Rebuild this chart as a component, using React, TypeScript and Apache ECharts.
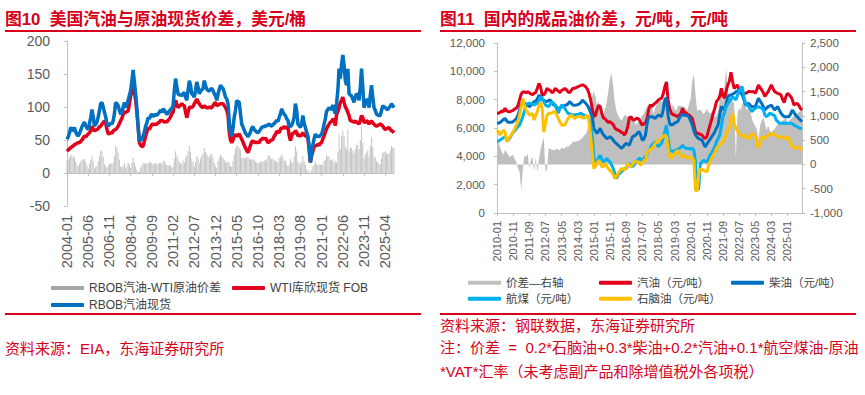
import React, { useEffect, useRef } from "react";
import * as echarts from "echarts";

// ---------- Left chart (图10) : monthly 2004-01 .. 2025-11 ----------
const leftStart = 2004;
const leftCount = 263;
const leftCats: string[] = [];
for (let i = 0; i < leftCount; i++) {
  const y = leftStart + Math.floor(i / 12);
  const m = (i % 12) + 1;
  leftCats.push(`${y}-${m < 10 ? "0" + m : m}`);
}

const rbobSpot = [
  51, 55, 61, 69, 66, 64, 69, 62, 58, 56, 60, 65,
  70, 74, 77, 72, 68, 66, 75, 84, 96, 85, 71, 74,
  77, 85, 95, 105, 107, 100, 92, 85, 74, 71, 73, 76,
  74, 79, 90, 107, 105, 102, 95, 89, 92, 100, 107, 99,
  104, 110, 118, 125, 140, 156, 138, 120, 97, 70, 48, 50,
  52, 56, 62, 71, 76, 84, 82, 87, 89, 86, 87, 89,
  87, 90, 92, 95, 92, 97, 95, 92, 89, 91, 94, 96,
  98, 102, 125, 143, 130, 120, 118, 119, 117, 120, 122, 115,
  110, 125, 140, 132, 120, 118, 115, 125, 138, 130, 120, 124,
  126, 128, 140, 132, 127, 125, 124, 127, 128, 125, 120, 117,
  110, 120, 127, 133, 130, 128, 122, 115, 112, 105, 78, 60,
  56, 68, 85, 95, 110, 108, 107, 90, 74, 70, 65, 60,
  58, 55, 58, 62, 68, 70, 66, 64, 62, 61, 63, 66,
  69, 70, 70, 72, 71, 73, 74, 72, 71, 73, 75, 77,
  80, 78, 84, 90, 97, 92, 89, 87, 82, 80, 70, 71,
  72, 77, 85, 105, 95, 74, 72, 69, 75, 87, 75, 69,
  62, 56, 40, 16, 30, 43, 52, 59, 55, 56, 55, 57,
  59, 65, 74, 82, 94, 96, 99, 97, 97, 103, 95, 90,
  105, 125, 158, 143, 165, 179, 163, 140, 133, 158, 120, 118,
  117, 112, 107, 115, 120, 118, 110, 130, 158, 130, 99, 105,
  110, 112, 99, 118, 133, 115, 99, 95, 89, 88, 87, 87,
  95, 102, 100, 99, 97, 96, 99, 101, 105, 102, 99,
];

const wtiSpot = [
  33, 35, 37, 38, 40, 41, 43, 44, 45, 46, 46, 48,
  50, 53, 56, 55, 57, 59, 61, 64, 71, 66, 64, 65,
  66, 67, 70, 71, 74, 76, 79, 75, 66, 60, 59, 62,
  60, 64, 65, 66, 68, 71, 75, 79, 83, 89, 92, 92,
  93, 94, 105, 117, 125, 133, 122, 110, 92, 70, 46, 42,
  40, 41, 48, 56, 62, 69, 66, 70, 74, 74, 73, 74,
  74, 76, 77, 80, 79, 79, 77, 78, 77, 80, 82, 85,
  90, 92, 103, 110, 104, 99, 101, 103, 105, 103, 102, 92,
  84, 92, 99, 100, 99, 101, 105, 108, 112, 108, 105, 102,
  100, 99, 102, 100, 99, 99, 100, 99, 99, 102, 105, 107,
  102, 103, 104, 105, 105, 105, 102, 99, 95, 88, 62, 50,
  46, 50, 57, 58, 56, 57, 59, 55, 51, 47, 42, 38,
  34, 31, 36, 42, 47, 49, 46, 47, 46, 47, 46, 50,
  51, 53, 51, 53, 50, 46, 47, 49, 50, 51, 56, 58,
  63, 62, 61, 66, 69, 67, 71, 68, 69, 70, 57, 49,
  56, 61, 60, 64, 62, 56, 57, 56, 58, 61, 58, 56,
  56, 54, 35, 16, 26, 33, 40, 41, 42, 43, 42, 45,
  46, 52, 56, 62, 67, 71, 74, 77, 78, 82, 80, 72,
  89, 93, 99, 107, 110, 115, 107, 100, 97, 92, 87, 79,
  79, 78, 77, 79, 77, 76, 74, 80, 87, 84, 77, 77,
  79, 78, 74, 77, 79, 76, 74, 72, 71, 72, 73, 74,
  73, 71, 68, 66, 67, 68, 69, 66, 64, 63, 61,
];

const crackSpread = [
  18, 20, 24, 28, 26, 23, 25, 18, 13, 10, 14, 17,
  20, 21, 21, 17, 11, 7, 14, 20, 25, 19, 7, 9,
  11, 18, 25, 34, 33, 24, 13, 10, 8, 11, 14, 14,
  14, 15, 25, 41, 37, 31, 20, 10, 9, 11, 15, 7,
  11, 16, 13, 8, 15, 23, 16, 10, 5, 2, 2, 8,
  12, 15, 14, 15, 14, 15, 16, 17, 15, 12, 14, 15,
  13, 14, 15, 15, 13, 18, 18, 14, 12, 11, 12, 11,
  8, 10, 22, 33, 26, 21, 17, 14, 14, 19, 16, 23,
  26, 33, 41, 32, 21, 17, 10, 17, 26, 22, 15, 22,
  26, 29, 38, 32, 28, 26, 24, 28, 29, 23, 15, 10,
  8, 17, 23, 28, 25, 23, 20, 16, 17, 17, 16, 10,
  10, 18, 28, 37, 42, 40, 38, 35, 23, 23, 23, 22,
  24, 24, 22, 20, 21, 21, 20, 17, 16, 14, 17, 16,
  18, 17, 19, 19, 21, 27, 27, 23, 21, 22, 19, 19,
  17, 16, 23, 24, 28, 25, 18, 19, 13, 10, 13, 22,
  16, 16, 25, 41, 33, 18, 15, 13, 17, 26, 17, 13,
  6, 2, 5, 0, 4, 10, 12, 18, 13, 13, 13, 12,
  13, 13, 18, 20, 27, 25, 25, 20, 19, 21, 15, 18,
  16, 32, 59, 36, 55, 64, 56, 40, 36, 66, 33, 39,
  38, 34, 30, 36, 43, 42, 36, 50, 71, 46, 22, 28,
  31, 34, 25, 41, 54, 39, 25, 23, 18, 16, 14, 13,
  22, 31, 32, 33, 30, 28, 30, 35, 41, 39, 38,
];

// ---------- Right chart (图11) : monthly 2010-01 .. 2025-10 ----------
const rightStart = 2010;
const rightCount = 190;
const rightCats: string[] = [];
for (let i = 0; i < rightCount; i++) {
  const y = rightStart + Math.floor(i / 12);
  const m = (i % 12) + 1;
  rightCats.push(`${y}-${m < 10 ? "0" + m : m}`);
}

const gasoline = [
  7050, 7050, 7100, 7200, 7150, 7400, 7200, 7150, 7150, 7200, 7250, 7350,
  7400, 7600, 8000, 8400, 8550, 8550, 8500, 8550, 8500, 8400, 8350, 8450,
  8500, 8800, 9150, 8900, 8300, 8350, 8500, 8800, 8700, 8650, 8500, 8550,
  8800, 8700, 8600, 8500, 8650, 8700, 8800, 8700, 8550, 8500, 8650, 8800,
  8800, 8850, 8900, 8950, 9000, 9050, 9000, 8900, 8750, 8450, 8000, 7400,
  6800, 6900, 7300, 7600, 7500, 7000, 6700, 6650, 6500, 6400, 6450, 6350,
  6250, 6000, 5900, 5850, 5800, 5700, 5650, 5500, 5700, 6100, 6700, 6800,
  6600, 6550, 6650, 6700, 6600, 6400, 6200, 6300, 6330, 6700, 7300, 7650,
  7510, 7650, 7750, 7850, 7980, 8050, 8100, 8400, 8900, 9250, 8000, 7400,
  7040, 6950, 6920, 6850, 6800, 6900, 7040, 7390, 7040, 7100, 6950, 6920,
  6800, 6680, 6200, 5740, 5620, 5600, 5550, 5500, 5350, 5260, 5380, 5800,
  6210, 6600, 7040, 7400, 7860, 8000, 8220, 8800, 8300, 8100, 8600, 9040,
  9300, 9940, 9280, 8800, 8900, 9040, 8700, 8600, 8450, 8450, 8450, 8500,
  8570, 8570, 8550, 8570, 8450, 8700, 9040, 8850, 8690, 8500, 8220, 8400,
  8570, 8800, 9040, 8800, 8570, 8500, 8450, 8400, 8330, 8000, 7800, 8200,
  8450, 8350, 8220, 8000, 7620, 7700, 7740, 7600, 7390, 7270,
];

const diesel = [
  6330, 6350, 6400, 6500, 6600, 6680, 6500, 6400, 6400, 6400, 6450, 6550,
  6680, 6900, 7270, 7740, 7740, 7740, 7700, 7600, 7510, 7600, 7750, 7860,
  7900, 8050, 8330, 8100, 7980, 7950, 7900, 7860, 7950, 7980, 7800, 7620,
  7620, 7450, 7270, 7400, 7510, 7550, 7600, 7620, 7700, 7860, 7750, 7620,
  7600, 7620, 7650, 7700, 7800, 7980, 7850, 7740, 7600, 7390, 7100, 6800,
  5970, 5800, 5620, 5800, 5970, 5700, 5500, 5400, 5260, 5300, 5380, 5300,
  5150, 5000, 4900, 4790, 4700, 4560, 4650, 4800, 4910, 4850, 4790, 5100,
  5380, 5450, 5500, 5650, 5740, 5500, 5150, 5200, 5500, 6300, 6800, 6800,
  6800, 6750, 6680, 6800, 6920, 6850, 6800, 7300, 8000, 8150, 6900, 6300,
  6210, 6250, 6330, 6400, 6450, 6700, 6920, 6920, 6900, 6920, 6850, 6800,
  6500, 6210, 5800, 5500, 5350, 5260, 5200, 5150, 4900, 4670, 4850, 5030,
  5200, 5380, 5550, 5740, 6000, 6210, 6900, 7510, 7400, 7270, 7700, 8220,
  8280, 8330, 8400, 8450, 8550, 8600, 8690, 8500, 8330, 8000, 7620, 7700,
  7740, 7600, 7510, 7500, 7510, 7800, 8100, 7900, 7740, 7500, 7270, 7400,
  7510, 7550, 7620, 7450, 7270, 7400, 7510, 7250, 7040, 6900, 6800, 6800,
  6800, 6800, 7000, 7270, 7100, 6920, 6800, 6680, 6550, 6450,
];

const jetFuel = [
  5080, 5080, 5150, 5250, 5300, 5380, 5250, 5150, 5300, 5500, 5700, 5800,
  5970, 6100, 6210, 6500, 6800, 7200, 7620, 7700, 7740, 7740, 7700, 7620,
  7700, 7740, 7900, 8220, 8100, 7900, 7620, 7550, 7510, 7700, 7860, 7750,
  7620, 7300, 7040, 7400, 7620, 7500, 7390, 7200, 7040, 7000, 6950, 6920,
  6920, 6950, 6920, 7000, 7040, 6950, 6920, 6850, 6800, 6600, 6330, 5500,
  3850, 3700, 3610, 3900, 4080, 3800, 3610, 3700, 3850, 3700, 3610, 3400,
  3140, 2800, 2430, 2670, 2800, 2900, 3000, 3140, 3140, 3300, 3490, 3400,
  3260, 3400, 3610, 3700, 3850, 3800, 3730, 3850, 3970, 4100, 4440, 4600,
  4790, 4900, 5030, 4850, 4670, 4800, 4910, 5300, 5740, 6210, 5260, 4440,
  4400, 4320, 4400, 4440, 4500, 4560, 4650, 4790, 4650, 4560, 4560, 4560,
  4500, 4560, 4440, 3610, 1610, 1720, 3490, 3600, 3730, 3650, 3610, 3800,
  4080, 4250, 4440, 4700, 5030, 5250, 5500, 6100, 6800, 7100, 7510, 7700,
  7860, 8000, 8220, 8100, 7980, 8300, 8570, 8810, 8920, 8220, 7740, 7600,
  7510, 7350, 7150, 7300, 7390, 7450, 7510, 7450, 7390, 7300, 6920, 6800,
  6900, 7040, 7000, 6920, 6900, 6560, 6450, 6330, 6330, 6330, 6330, 6330,
  6330, 6330, 6330, 6300, 6210, 6150, 6090, 6030, 5970, 5970,
];

const naphtha = [
  5850, 5700, 5500, 5700, 5850, 5700, 5030, 5200, 5380, 5550, 5740, 5950,
  6210, 6500, 6920, 7500, 8100, 7600, 7270, 7100, 6920, 6950, 7040, 6560,
  6900, 7150, 7600, 7800, 7400, 5700, 6300, 6900, 7040, 7040, 7050, 7150,
  7150, 6900, 6680, 6400, 6210, 6200, 6210, 6450, 6680, 6800, 6920, 6800,
  6680, 6750, 6800, 6800, 6800, 6750, 6680, 6800, 6900, 6500, 5500, 4300,
  3140, 3300, 3490, 3730, 3500, 3260, 3300, 3490, 3300, 3140, 3000, 2900,
  2700, 2430, 2600, 2790, 2950, 3140, 3100, 3020, 3200, 3490, 3350, 3260,
  3400, 3610, 3610, 3610, 3550, 3380, 3500, 3730, 3730, 4200, 4440, 4500,
  4560, 4700, 4910, 5000, 5100, 5200, 5300, 5400, 5500, 5450, 4600, 4000,
  3850, 4000, 4200, 4300, 4440, 4200, 3970, 4000, 4080, 3950, 3850, 3900,
  3970, 3900, 3700, 1610, 1550, 2700, 3140, 3050, 3020, 2950, 2900, 3300,
  3610, 3850, 4080, 4300, 4560, 4700, 4790, 4900, 5030, 5200, 5500, 5800,
  6000, 6500, 7040, 6300, 6000, 5800, 5620, 5500, 5380, 5450, 5500, 5300,
  5260, 5400, 5620, 5500, 5380, 5000, 4560, 5000, 5380, 5300, 5260, 5400,
  5500, 5550, 5620, 5580, 5500, 5450, 5380, 5380, 5380, 5300, 5260, 5300,
  5380, 5200, 5000, 4670, 4600, 4560, 4620, 4670, 4550, 4440,
];

const refineSpread = [
  550, 450, 350, 250, 200, 300, 250, 200, 150, 180, 200, 100,
  50, -80, -150, -530, -100, 190, 150, 226, -82, 100, 150, -150,
  150, -150, 100, 300, 450, 550, -150, -100, 330, 330, 290, 300,
  290, 330, 300, 290, 350, 330, 330, 380, 350, 400, 420, 466,
  466, 470, 480, 500, 520, 550, 600, 620, 700, 880, 1360, 1400,
  1500, 1400, 1220, 1300, 1080, 1050, 1015, 1150, 1290, 1500, 1770, 1870,
  1600, 1290, 1100, 1015, 950, 910, 950, 1015, 1000, 980, 1000, 950,
  1015, 900, 810, 850, 880, 950, 1015, 1050, 1120, 1200, 1210, 1210,
  1210, 1035, 1150, 1240, 1280, 1310, 1300, 1305, 1280, 1250, 1150, 1035,
  1100, 1240, 1150, 1100, 1200, 1210, 1200, 1200, 1180, 1150, 1100, 1250,
  1345, 1725, 1860, 1450, 1100, 1120, 1130, 1080, 1035, 1080, 1150, 1080,
  1050, 1080, 1000, 965, 1000, 1100, 1300, 1480, 1300, 1600, 2000, 1500,
  1400, 1300, 1310, 1250, 140, 1035, 1170, 1100, 1250, 1275, 1200, 1100,
  1275, 1100, 930, 850, 790, 725, 500, 800, 900, 965, 850, 700,
  800, 700, 655, 700, 725, 780, 830, 860, 880, 900, 930, 960,
  860, 900, 930, 960, 1000, 1035, 1050, 1080, 1100, 1140,
];

const FONT = 'Liberation Sans, "Noto Sans CJK SC", sans-serif';
const RED = "#d9001b";
const AXIS = "#bfbfbf";
const LABEL = "#595959";

export default function App() {
  const ref = useRef<HTMLDivElement>(null);
  useEffect(() => {
    if (!ref.current) return;
    const chart = echarts.init(ref.current, undefined, { renderer: "svg" });
    const legendBase = (left: number, top: number, name: string, icon: string, color?: string, fs = 12) => ({
      left,
      top,
      orient: "horizontal",
      icon,
      itemWidth: 33,
      itemHeight: 4,
      itemGap: 0,
      selectedMode: false,
      textStyle: { fontSize: fs, color: "#404040", fontFamily: FONT },
      data: [color ? { name, itemStyle: { color } } : { name }],
    });
    chart.setOption({
      animation: false,
      backgroundColor: "#ffffff",
      grid: [
        { left: 67, right: 471, top: 41, bottom: 189, containLabel: false },
        { left: 497, right: 63, top: 43, bottom: 182, containLabel: false },
      ],
      legend: [
        legendBase(46, 277, "RBOB汽油-WTI原油价差", "rect", "#a6a6a6"),
        legendBase(227, 277, "WTI库欣现货 FOB", "roundRect"),
        legendBase(46, 294, "RBOB汽油现货", "roundRect"),
        legendBase(463, 272, "价差—右轴", "rect", "#bfbfbf", 11.5),
        legendBase(594, 272, "汽油（元/吨）", "roundRect", undefined, 11.5),
        legendBase(726, 272, "柴油（元/吨）", "roundRect", undefined, 11.5),
        legendBase(463, 288, "航煤（元/吨）", "roundRect", undefined, 11.5),
        legendBase(594, 288, "石脑油（元/吨）", "roundRect", undefined, 11.5),
      ],
      xAxis: [
        {
          // labels along the bottom of the left plot
          type: "category",
          gridIndex: 0,
          position: "bottom",
          data: leftCats,
          boundaryGap: false,
          axisLine: { show: false, onZero: false },
          axisTick: { show: false },
          axisLabel: {
            interval: 16,
            rotate: 90,
            margin: 9,
            fontSize: 14.5,
            color: LABEL,
            fontFamily: FONT,
          },
          splitLine: { show: false },
        },
        {
          type: "category",
          gridIndex: 1,
          data: rightCats,
          boundaryGap: false,
          axisLine: { onZero: true, lineStyle: { color: AXIS, width: 1 } },
          axisTick: { show: true, interval: 9, length: 3, lineStyle: { color: AXIS } },
          axisLabel: {
            interval: 9,
            rotate: 90,
            margin: 8,
            fontSize: 11,
            color: LABEL,
            fontFamily: FONT,
          },
          splitLine: { show: false },
        },
        {
          // zero line with ticks for the left plot
          type: "category",
          gridIndex: 0,
          position: "bottom",
          data: leftCats,
          boundaryGap: false,
          axisLine: { show: true, onZero: true, lineStyle: { color: AXIS, width: 1 } },
          axisTick: { show: true, interval: 16, length: 3, lineStyle: { color: AXIS } },
          axisLabel: { show: false },
          splitLine: { show: false },
        },
      ],
      yAxis: [
        {
          type: "value",
          gridIndex: 0,
          min: -50,
          max: 200,
          interval: 50,
          axisLine: { show: true, lineStyle: { color: AXIS } },
          axisTick: { show: true, length: 3, lineStyle: { color: AXIS } },
          axisLabel: { margin: 17, fontSize: 14, color: LABEL, fontFamily: FONT },
          splitLine: { show: false },
        },
        {
          type: "value",
          gridIndex: 1,
          position: "left",
          min: 0,
          max: 12000,
          interval: 2000,
          axisLine: { show: true, lineStyle: { color: AXIS } },
          axisTick: { show: true, length: 3, lineStyle: { color: AXIS } },
          axisLabel: { margin: 12, fontSize: 11.5, color: LABEL, fontFamily: FONT },
          splitLine: { show: false },
        },
        {
          type: "value",
          gridIndex: 1,
          position: "right",
          min: -1000,
          max: 2500,
          interval: 500,
          axisLine: { show: true, lineStyle: { color: AXIS } },
          axisTick: { show: true, length: 3, lineStyle: { color: AXIS } },
          axisLabel: { margin: 8, fontSize: 11.5, color: LABEL, fontFamily: FONT },
          splitLine: { show: false },
        },
      ],
      series: [
        {
          name: "RBOB汽油-WTI原油价差",
          type: "bar",
          xAxisIndex: 0,
          yAxisIndex: 0,
          data: crackSpread,
          barWidth: "65%",
          itemStyle: { color: "#c4c4c4" },
        },
        {
          name: "WTI库欣现货 FOB",
          type: "line",
          xAxisIndex: 0,
          yAxisIndex: 0,
          data: wtiSpot,
          showSymbol: false,
          lineStyle: { width: 3.5, color: "#e3001b" },
          itemStyle: { color: "#e3001b" },
        },
        {
          name: "RBOB汽油现货",
          type: "line",
          xAxisIndex: 0,
          yAxisIndex: 0,
          data: rbobSpot,
          showSymbol: false,
          lineStyle: { width: 3.5, color: "#0070c0" },
          itemStyle: { color: "#0070c0" },
        },
        {
          name: "价差—右轴",
          type: "line",
          xAxisIndex: 1,
          yAxisIndex: 2,
          data: refineSpread,
          showSymbol: false,
          lineStyle: { width: 0, color: "#bfbfbf" },
          itemStyle: { color: "#bfbfbf" },
          areaStyle: { color: "#bfbfbf", opacity: 1 },
        },
        {
          name: "汽油（元/吨）",
          type: "line",
          xAxisIndex: 1,
          yAxisIndex: 1,
          data: gasoline,
          showSymbol: false,
          lineStyle: { width: 3, color: "#e3001b" },
          itemStyle: { color: "#e3001b" },
        },
        {
          name: "柴油（元/吨）",
          type: "line",
          xAxisIndex: 1,
          yAxisIndex: 1,
          data: diesel,
          showSymbol: false,
          lineStyle: { width: 3, color: "#0070c0" },
          itemStyle: { color: "#0070c0" },
        },
        {
          name: "航煤（元/吨）",
          type: "line",
          xAxisIndex: 1,
          yAxisIndex: 1,
          data: jetFuel,
          showSymbol: false,
          lineStyle: { width: 3, color: "#00b0f0" },
          itemStyle: { color: "#00b0f0" },
        },
        {
          name: "石脑油（元/吨）",
          type: "line",
          xAxisIndex: 1,
          yAxisIndex: 1,
          data: naphtha,
          showSymbol: false,
          lineStyle: { width: 3, color: "#ffc000" },
          itemStyle: { color: "#ffc000" },
        },
      ],
      graphic: [
        {
          type: "text",
          left: 5,
          top: 11,
          style: {
            text: "图10  美国汽油与原油现货价差，美元/桶",
            fill: RED,
            font: `bold 16.8px ${FONT}`,
          },
        },
        { type: "rect", shape: { x: 5, y: 30, width: 416, height: 2 }, style: { fill: RED } },
        {
          type: "text",
          left: 440,
          top: 11,
          style: {
            text: "图11  国内的成品油价差，元/吨，元/吨",
            fill: RED,
            font: `bold 16.8px ${FONT}`,
          },
        },
        { type: "rect", shape: { x: 440, y: 30, width: 416, height: 2 }, style: { fill: RED } },
        { type: "rect", shape: { x: 5, y: 313, width: 416, height: 2 }, style: { fill: RED } },
        { type: "rect", shape: { x: 440, y: 313, width: 416, height: 2 }, style: { fill: RED } },
        {
          type: "text",
          left: 5,
          top: 341,
          style: { text: "资料来源：EIA，东海证券研究所", fill: RED, font: `15px ${FONT}` },
        },
        {
          type: "text",
          left: 440,
          top: 318,
          style: { text: "资料来源：钢联数据，东海证券研究所", fill: RED, font: `15px ${FONT}` },
        },
        {
          type: "text",
          left: 440,
          top: 340,
          style: {
            text: "注：价差  =  0.2*石脑油+0.3*柴油+0.2*汽油+0.1*航空煤油-原油",
            fill: RED,
            font: `15px ${FONT}`,
          },
        },
        {
          type: "text",
          left: 440,
          top: 364,
          style: {
            text: "*VAT*汇率（未考虑副产品和除增值税外各项税）",
            fill: RED,
            font: `15px ${FONT}`,
          },
        },
      ],
    });
    return () => chart.dispose();
  }, []);
  return (
    <div
      ref={ref}
      style={{ position: "absolute", left: 0, top: 0, width: 865, height: 395, background: "#fff" }}
    />
  );
}
